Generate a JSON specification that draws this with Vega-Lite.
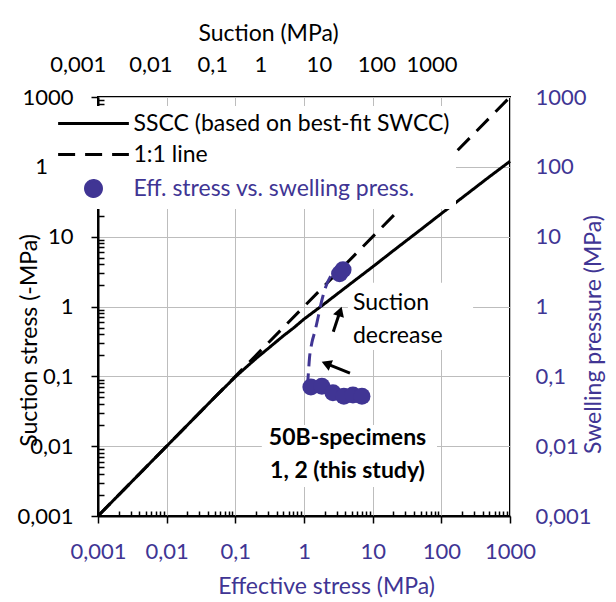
{
  "$schema": "https://vega.github.io/schema/vega-lite/v6.json",
  "width": 412,
  "height": 419,
  "autosize": {"type": "none"},
  "padding": {"left": 98, "top": 97, "right": 106, "bottom": 86},
  "config": {
    "font": "Lato",
    "view": {"stroke": "black", "strokeWidth": 2},
    "axis": {
      "labelFont": "Lato", "labelFontSize": 22, "titleFont": "Lato", "titleFontSize": 23,
      "titleFontWeight": "normal", "domainColor": "black", "domainWidth": 2,
      "tickColor": "black", "tickWidth": 1.5, "gridColor": "#bdbdbd", "gridWidth": 1,
      "labelFlush": false, "labelOverlap": false
    },
    "text": {"font": "Lato", "fontSize": 23}
  },
  "datasets": {
    "boxes": [
      {"x": 4.36, "x2": 290, "y": 0.239, "y2": 2.18},
      {"x": 0.243, "x2": 86.5, "y": 0.0026, "y2": 0.0201}
    ],
    "sscc": [
      {"x": 0.001, "y": 0.001}, {"x": 0.01, "y": 0.01}, {"x": 0.05, "y": 0.05},
      {"x": 0.1, "y": 0.098}, {"x": 0.15, "y": 0.14}, {"x": 0.2, "y": 0.18},
      {"x": 0.3, "y": 0.25}, {"x": 0.5, "y": 0.38}, {"x": 0.7, "y": 0.49},
      {"x": 1, "y": 0.66}, {"x": 2, "y": 1.1}, {"x": 5, "y": 2.2},
      {"x": 10, "y": 3.7}, {"x": 20, "y": 6.3}, {"x": 50, "y": 12.6},
      {"x": 100, "y": 21.4}, {"x": 200, "y": 36}, {"x": 500, "y": 72},
      {"x": 1000, "y": 120}
    ],
    "oneToOne": [{"x": 0.001, "y": 0.001}, {"x": 1000, "y": 1000}],
    "path": [
      {"x": 1.12, "y": 0.072}, {"x": 1.15, "y": 0.1}, {"x": 1.2, "y": 0.18},
      {"x": 1.3, "y": 0.3}, {"x": 1.45, "y": 0.45}, {"x": 1.63, "y": 0.75},
      {"x": 1.81, "y": 1.2}, {"x": 2.05, "y": 1.85}, {"x": 2.39, "y": 2.6},
      {"x": 3.0, "y": 3.1}
    ],
    "arrows": [
      {"x": 2.67, "y": 0.436, "x2": 3.35, "y2": 0.853},
      {"x": 4.67, "y": 0.111, "x2": 2.11, "y2": 0.152}
    ],
    "head1": [{"x": 3.35, "y": 0.853}],
    "head2": [{"x": 2.11, "y": 0.152}],
    "points": [
      {"x": 1.26, "y": 0.0705}, {"x": 1.82, "y": 0.072}, {"x": 2.64, "y": 0.058},
      {"x": 3.81, "y": 0.052}, {"x": 5.16, "y": 0.054}, {"x": 6.98, "y": 0.052},
      {"x": 3.3, "y": 2.95}, {"x": 3.7, "y": 3.35}
    ],
    "suctionLabels": [
      {"x": 0.000516, "y": 2280, "text": "0,001"},
      {"x": 0.00589, "y": 2280, "text": "0,01"},
      {"x": 0.0467, "y": 2280, "text": "0,1"},
      {"x": 0.236, "y": 2280, "text": "1"},
      {"x": 1.675, "y": 2280, "text": "10"},
      {"x": 11.56, "y": 2280, "text": "100"},
      {"x": 73.1, "y": 2280, "text": "1000"}
    ],
    "notes": [
      {"x": 5.16, "y": 0.893, "text": "Suction"},
      {"x": 5.16, "y": 0.301, "text": "decrease"}
    ],
    "specimens": [
      {"x": 4.3, "y": 0.0104, "text": "50B-specimens"},
      {"x": 4.3, "y": 0.0035, "text": "1, 2 (this study)"}
    ]
  },
  "layer": [
    {
      "data": {"name": "boxes"},
      "mark": {"type": "rect", "fill": "white", "strokeWidth": 0},
      "encoding": {
        "x": {"field": "x", "type": "quantitative", "scale": {"type": "log", "domain": [0.001, 1000], "nice": false},
          "axis": {"orient": "bottom", "values": [0.001, 0.01, 0.1, 1, 10, 100, 1000], "format": "~g",
            "labelExpr": "replace(datum.label, '.', ',')", "tickSize": 7, "labelPadding": 18,
            "labelColor": "#403594", "title": "Effective stress (MPa)", "titleColor": "#403594",
            "titleX": 228, "titleY": 77, "titleBaseline": "alphabetic", "titleAlign": "center", "grid": true}},
        "x2": {"field": "x2"},
        "y": {"field": "y", "type": "quantitative", "scale": {"type": "log", "domain": [0.001, 1000], "nice": false},
          "axis": {"orient": "left", "values": [0.001, 0.01, 0.1, 1, 10, 100, 1000], "format": "~g",
            "labelExpr": "replace(datum.label, '.', ',')", "tickSize": 7, "labelPadding": 18,
            "labelColor": "black", "title": "Suction stress (-MPa)", "titleColor": "black",
            "titleAngle": 270, "titleX": -62, "titleY": 243, "titleBaseline": "alphabetic", "titleAlign": "center", "grid": true}},
        "y2": {"field": "y2"}
      }
    },
    {
      "data": {"name": "sscc"},
      "mark": {"type": "line", "strokeWidth": 3},
      "encoding": {
        "x": {"field": "x", "type": "quantitative", "scale": {"type": "log", "domain": [0.001, 1000], "nice": false},
          "axis": {"orient": "bottom", "values": [0.002,0.003,0.004,0.005,0.006,0.007,0.008,0.009,0.02,0.03,0.04,0.05,0.06,0.07,0.08,0.09,0.2,0.3,0.4,0.5,0.6,0.7,0.8,0.9,2,3,4,5,6,7,8,9,20,30,40,50,60,70,80,90,200,300,400,500,600,700,800,900],
            "tickSize": -5, "labels": false, "domain": false, "grid": false, "title": null}},
        "y": {"field": "y", "type": "quantitative", "scale": {"type": "log", "domain": [0.001, 1000], "nice": false},
          "axis": {"orient": "left", "values": [0.002,0.003,0.004,0.005,0.006,0.007,0.008,0.009,0.02,0.03,0.04,0.05,0.06,0.07,0.08,0.09,0.2,0.3,0.4,0.5,0.6,0.7,0.8,0.9,2,3,4,5,6,7,8,9,20,30,40,50,60,70,80,90,200,300,400,500,600,700,800,900],
            "tickSize": -6, "labels": false, "domain": false, "grid": false, "title": null}},
        "color": {"datum": "SSCC (based on best-fit SWCC)", "type": "nominal",
          "scale": {"domain": ["SSCC (based on best-fit SWCC)", "1:1 line", "Eff. stress vs. swelling press."], "range": ["black", "black", "#403594"]},
          "legend": {
            "orient": "none", "legendX": -50, "legendY": 9, "fillColor": "white", "padding": 6,
            "title": null, "labelFont": "Lato", "labelFontSize": 23, "labelLimit": 600,
            "symbolSize": 254, "symbolOffset": 28, "labelOffset": 28.5, "rowPadding": 7,
            "symbolStrokeWidth": 3, "symbolFillColor": "#403594", "symbolOpacity": 1,
            "labelColor": {"expr": "datum.value === 'Eff. stress vs. swelling press.' ? '#403594' : 'black'"}
          }},
        "strokeDash": {"datum": "SSCC (based on best-fit SWCC)", "type": "nominal",
          "scale": {"domain": ["SSCC (based on best-fit SWCC)", "1:1 line", "Eff. stress vs. swelling press."], "range": [[1, 0], [17, 10], [1, 0]]}}
      }
    },
    {
      "data": {"name": "oneToOne"},
      "mark": {"type": "line", "strokeWidth": 3},
      "encoding": {
        "x": {"field": "x", "type": "quantitative", "scale": {"type": "log", "domain": [0.001, 1000], "nice": false},
          "axis": {"orient": "top", "labels": false, "ticks": false, "domain": false, "grid": false,
            "title": "Suction (MPa)", "titleColor": "black", "titleX": 170, "titleY": -57, "titleBaseline": "alphabetic", "titleAlign": "center"}},
        "y": {"field": "y", "type": "quantitative", "scale": {"type": "log", "domain": [0.001, 1000], "nice": false},
          "axis": {"orient": "right", "values": [0.001, 0.01, 0.1, 1, 10, 100, 1000], "format": "~g",
            "labelExpr": "replace(datum.label, '.', ',')", "ticks": false, "tickSize": 0, "domain": false, "grid": false,
            "labelPadding": 25, "labelColor": "#403594",
            "title": "Swelling pressure (MPa)", "titleColor": "#403594", "titleAngle": 270,
            "titleX": 90, "titleY": 237, "titleBaseline": "alphabetic", "titleAlign": "center"}},
        "color": {"datum": "1:1 line", "type": "nominal"},
        "strokeDash": {"datum": "1:1 line", "type": "nominal"}
      }
    },
    {
      "data": {"name": "path"},
      "mark": {"type": "line", "strokeWidth": 3, "strokeDash": [13, 7], "color": "#403594", "interpolate": "monotone"},
      "encoding": {
        "x": {"field": "x", "type": "quantitative", "scale": {"type": "log", "domain": [0.001, 1000], "nice": false}, "axis": null},
        "y": {"field": "y", "type": "quantitative", "scale": {"type": "log", "domain": [0.001, 1000], "nice": false}, "axis": null},
        "order": {"field": "y", "type": "quantitative"}
      }
    },
    {
      "data": {"name": "arrows"},
      "mark": {"type": "rule", "strokeWidth": 3, "color": "black"},
      "encoding": {
        "x": {"field": "x", "type": "quantitative", "scale": {"type": "log", "domain": [0.001, 1000], "nice": false}, "axis": null},
        "y": {"field": "y", "type": "quantitative", "scale": {"type": "log", "domain": [0.001, 1000], "nice": false}, "axis": null},
        "x2": {"field": "x2"},
        "y2": {"field": "y2"}
      }
    },
    {
      "data": {"name": "head1"},
      "mark": {"type": "point", "shape": "triangle-up", "filled": true, "color": "black", "opacity": 1, "size": 130, "angle": 18.6},
      "encoding": {
        "x": {"field": "x", "type": "quantitative", "scale": {"type": "log", "domain": [0.001, 1000], "nice": false}, "axis": null},
        "y": {"field": "y", "type": "quantitative", "scale": {"type": "log", "domain": [0.001, 1000], "nice": false}, "axis": null}
      }
    },
    {
      "data": {"name": "head2"},
      "mark": {"type": "point", "shape": "triangle-up", "filled": true, "color": "black", "opacity": 1, "size": 130, "angle": 292.3},
      "encoding": {
        "x": {"field": "x", "type": "quantitative", "scale": {"type": "log", "domain": [0.001, 1000], "nice": false}, "axis": null},
        "y": {"field": "y", "type": "quantitative", "scale": {"type": "log", "domain": [0.001, 1000], "nice": false}, "axis": null}
      }
    },
    {
      "data": {"name": "points"},
      "mark": {"type": "point", "filled": true, "opacity": 1, "size": 290, "strokeWidth": 0},
      "encoding": {
        "x": {"field": "x", "type": "quantitative", "scale": {"type": "log", "domain": [0.001, 1000], "nice": false}, "axis": null},
        "y": {"field": "y", "type": "quantitative", "scale": {"type": "log", "domain": [0.001, 1000], "nice": false}, "axis": null},
        "color": {"datum": "Eff. stress vs. swelling press.", "type": "nominal"},
        "shape": {"datum": "Eff. stress vs. swelling press.", "type": "nominal",
          "scale": {"domain": ["SSCC (based on best-fit SWCC)", "1:1 line", "Eff. stress vs. swelling press."], "range": ["M-4.44,0H4.44", "M-4.44,0H4.44", "circle"]}}
      }
    },
    {
      "data": {"name": "suctionLabels"},
      "mark": {"type": "text", "align": "center", "baseline": "alphabetic", "fontSize": 22, "color": "black"},
      "encoding": {
        "x": {"field": "x", "type": "quantitative", "scale": {"type": "log", "domain": [0.001, 1000], "nice": false}, "axis": null},
        "y": {"field": "y", "type": "quantitative", "scale": {"type": "log", "domain": [0.001, 1000], "nice": false}, "axis": null},
        "text": {"field": "text"}
      }
    },
    {
      "data": {"name": "notes"},
      "mark": {"type": "text", "align": "left", "baseline": "alphabetic", "fontSize": 23, "color": "black"},
      "encoding": {
        "x": {"field": "x", "type": "quantitative", "scale": {"type": "log", "domain": [0.001, 1000], "nice": false}, "axis": null},
        "y": {"field": "y", "type": "quantitative", "scale": {"type": "log", "domain": [0.001, 1000], "nice": false}, "axis": null},
        "text": {"field": "text"}
      }
    },
    {
      "data": {"name": "specimens"},
      "mark": {"type": "text", "align": "center", "baseline": "alphabetic", "fontSize": 23, "fontWeight": "bold", "color": "black"},
      "encoding": {
        "x": {"field": "x", "type": "quantitative", "scale": {"type": "log", "domain": [0.001, 1000], "nice": false}, "axis": null},
        "y": {"field": "y", "type": "quantitative", "scale": {"type": "log", "domain": [0.001, 1000], "nice": false}, "axis": null},
        "text": {"field": "text"}
      }
    }
  ],
  "resolve": {"axis": {"x": "independent", "y": "independent"}}
}
